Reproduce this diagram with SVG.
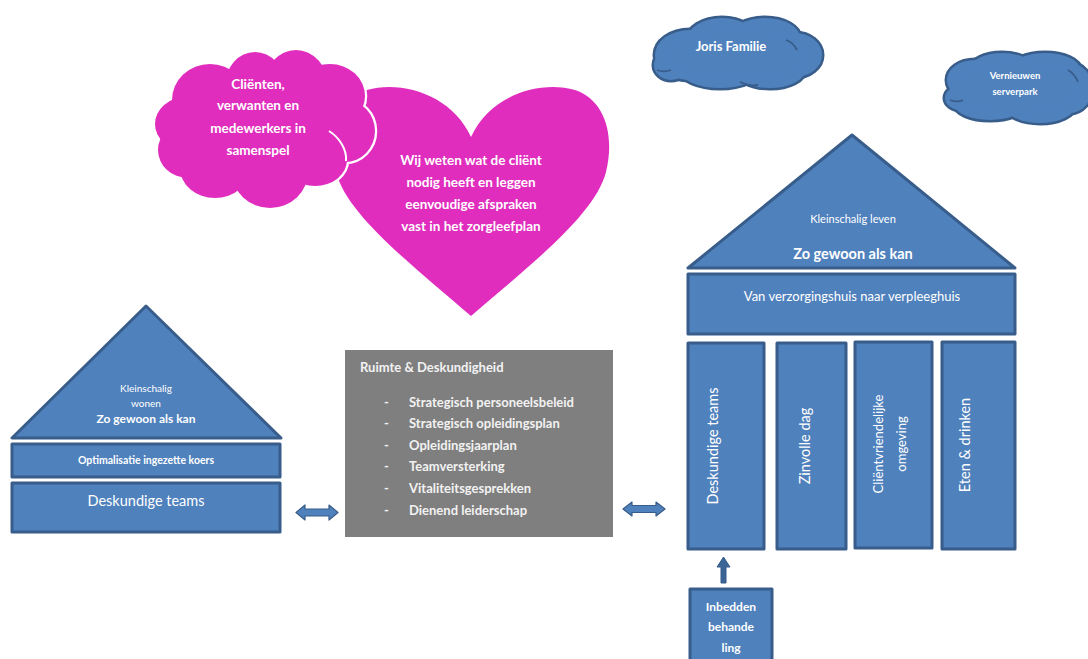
<svg xmlns="http://www.w3.org/2000/svg" xmlns:xlink="http://www.w3.org/1999/xlink" width="1088" height="659" viewBox="0 0 1088 659">
  <style>
    .blue { fill: #4F81BD; stroke: #385D8A; stroke-width: 3; stroke-linejoin: round; }
    .t { font-family: Lato, "Liberation Sans", sans-serif; fill: #FFFFFF; text-anchor: middle; }
    .b { font-weight: bold; }
    .gt { font-family: Lato, "Liberation Sans", sans-serif; fill: #F2F2F2; font-size: 13px; font-weight: bold; }
    .arrow { fill: #4F81BD; stroke: #385D8A; stroke-width: 1.2; stroke-linejoin: round; }
  </style>
  <defs>
    <!-- cloud outlines: union of ellipses, drawn once stroked and once filled -->
    <g id="cloudPink">
      <ellipse cx="210" cy="100" rx="38" ry="36"/>
      <ellipse cx="255" cy="86" rx="30" ry="34"/>
      <ellipse cx="296" cy="86" rx="32" ry="36"/>
      <ellipse cx="330" cy="96" rx="35" ry="32"/>
      <ellipse cx="345" cy="131" rx="30" ry="31"/>
      <ellipse cx="315" cy="160" rx="32" ry="26"/>
      <ellipse cx="270" cy="172" rx="38" ry="36"/>
      <ellipse cx="215" cy="168" rx="35" ry="30"/>
      <ellipse cx="188" cy="150" rx="30" ry="28"/>
      <ellipse cx="186" cy="124" rx="31" ry="27"/>
      <ellipse cx="265" cy="130" rx="80" ry="55"/>
    </g>
    <g id="cloudJoris">
      <ellipse cx="690" cy="55" rx="35" ry="25"/>
      <ellipse cx="722" cy="40" rx="35" ry="22"/>
      <ellipse cx="765" cy="38" rx="35" ry="20"/>
      <ellipse cx="795" cy="55" rx="27" ry="22"/>
      <ellipse cx="770" cy="70" rx="35" ry="18"/>
      <ellipse cx="720" cy="70" rx="40" ry="18"/>
      <ellipse cx="671" cy="65" rx="17" ry="15"/>
      <ellipse cx="737" cy="55" rx="70" ry="25"/>
    </g>
    <g id="cloudServer">
      <ellipse cx="975" cy="80" rx="28" ry="20"/>
      <ellipse cx="1002" cy="69" rx="32" ry="16"/>
      <ellipse cx="1045" cy="69" rx="35" ry="16"/>
      <ellipse cx="1070" cy="88" rx="22" ry="25"/>
      <ellipse cx="1040" cy="106" rx="35" ry="17"/>
      <ellipse cx="990" cy="105" rx="35" ry="15"/>
      <ellipse cx="961" cy="98" rx="16" ry="12"/>
      <ellipse cx="1015" cy="88" rx="65" ry="25"/>
    </g>
  </defs>

  <!-- heart with care plan statement -->
  <g id="heart">
    <path d="M471,137 C490,95 540,80 575,90 C605,100 615,135 606,172 C595,215 530,265 471,316 C412,265 347,215 336,172 C327,135 337,100 367,90 C402,80 452,95 471,137 Z" fill="#E02DBE"/>
    <text class="t b" font-size="13.5" x="471" y="165">Wij weten wat de cliënt</text>
    <text class="t b" font-size="13.5" x="471" y="187">nodig heeft en leggen</text>
    <text class="t b" font-size="13.5" x="471" y="209">eenvoudige afspraken</text>
    <text class="t b" font-size="13.5" x="471" y="231">vast in het zorgleefplan</text>
  </g>

  <!-- pink cloud -->
  <g id="cloud-samenspel">
    <use xlink:href="#cloudPink" fill="none" stroke="#FFFFFF" stroke-width="4.5"/>
    <use xlink:href="#cloudPink" fill="#E02DBE" stroke="none"/>
    <path d="M329,131 C340,138 347,150 346,161" fill="none" stroke="#FFFFFF" stroke-width="2"/>
    <text class="t b" font-size="13.5" x="258" y="89">Cliënten,</text>
    <text class="t b" font-size="13.5" x="258" y="110">verwanten en</text>
    <text class="t b" font-size="13.5" x="258" y="133">medewerkers in</text>
    <text class="t b" font-size="13.5" x="258" y="155">samenspel</text>
  </g>

  <!-- blue clouds -->
  <g id="cloud-joris">
    <use xlink:href="#cloudJoris" fill="none" stroke="#385D8A" stroke-width="5"/>
    <use xlink:href="#cloudJoris" fill="#4F81BD" stroke="none"/>
    <path d="M657,70 C662,72 666,72 671,70" fill="none" stroke="#385D8A" stroke-width="1.8"/>
    <path d="M786,40 C792,42 795,46 797,50" fill="none" stroke="#385D8A" stroke-width="1.8"/>
    <path d="M740,82 C746,85 752,86 758,85" fill="none" stroke="#385D8A" stroke-width="1.8"/>
    <text class="t b" font-size="13" x="731" y="51">Joris Familie</text>
  </g>
  <g id="cloud-server">
    <use xlink:href="#cloudServer" fill="none" stroke="#385D8A" stroke-width="5"/>
    <use xlink:href="#cloudServer" fill="#4F81BD" stroke="none"/>
    <path d="M950,100 C955,102 959,102 963,100" fill="none" stroke="#385D8A" stroke-width="1.8"/>
    <path d="M1068,70 C1073,73 1076,77 1078,82" fill="none" stroke="#385D8A" stroke-width="1.8"/>
    <text class="t b" font-size="9.5" x="1015" y="79">Vernieuwen</text>
    <text class="t b" font-size="9.5" x="1015" y="95">serverpark</text>
  </g>

  <!-- left house -->
  <g id="house-left">
    <polygon class="blue" points="146,306 12,438 281,438"/>
    <text class="t" font-size="10" x="146" y="392">Kleinschalig</text>
    <text class="t" font-size="10" x="146" y="407">wonen</text>
    <text class="t b" font-size="12" x="146" y="423">Zo gewoon als kan</text>
  </g>
  <g id="koers">
    <rect class="blue" x="12" y="444" width="268" height="33"/>
    <text class="t b" font-size="10.5" x="146" y="464">Optimalisatie ingezette koers</text>
  </g>
  <g id="teams-left">
    <rect class="blue" x="12" y="483" width="268" height="49"/>
    <text class="t" font-size="14.5" x="146" y="506">Deskundige teams</text>
  </g>

  <!-- central grey box -->
  <g id="ruimte">
    <rect x="345" y="350" width="268" height="187" fill="#7F7F7F"/>
    <text class="gt" x="360" y="372">Ruimte &amp; Deskundigheid</text>
    <g class="gt">
      <text x="384" y="407">-</text><text x="409" y="407">Strategisch personeelsbeleid</text>
      <text x="384" y="428">-</text><text x="409" y="428">Strategisch opleidingsplan</text>
      <text x="384" y="450">-</text><text x="409" y="450">Opleidingsjaarplan</text>
      <text x="384" y="471">-</text><text x="409" y="471">Teamversterking</text>
      <text x="384" y="493">-</text><text x="409" y="493">Vitaliteitsgesprekken</text>
      <text x="384" y="515">-</text><text x="409" y="515">Dienend leiderschap</text>
    </g>
  </g>

  <!-- right house -->
  <g id="house-right">
    <polygon class="blue" points="852,135 688,268 1015,268"/>
    <text class="t" font-size="11" x="853" y="223">Kleinschalig leven</text>
    <text class="t b" font-size="14.5" x="853" y="259">Zo gewoon als kan</text>
  </g>
  <g id="verpleeghuis">
    <rect class="blue" x="688" y="274" width="327" height="60"/>
    <text class="t" font-size="13" x="852" y="301">Van verzorgingshuis naar verpleeghuis</text>
  </g>
  <g id="col-teams">
    <rect class="blue" x="688" y="343" width="76" height="206"/>
    <text class="t" font-size="14.5" transform="translate(718,446) rotate(-90)">Deskundige teams</text>
  </g>
  <g id="col-dag">
    <rect class="blue" x="777" y="343" width="69" height="206"/>
    <text class="t" font-size="14.5" transform="translate(810,446) rotate(-90)">Zinvolle dag</text>
  </g>
  <g id="col-omgeving">
    <rect class="blue" x="855" y="342" width="77" height="206"/>
    <text class="t" font-size="13" transform="translate(883,444) rotate(-90)">Cliëntvriendelijke</text>
    <text class="t" font-size="13" transform="translate(906,444) rotate(-90)">omgeving</text>
  </g>
  <g id="col-eten">
    <rect class="blue" x="942" y="342" width="73" height="207"/>
    <text class="t" font-size="14.5" transform="translate(970,445) rotate(-90)">Eten &amp; drinken</text>
  </g>
  <g id="inbedden">
    <rect class="blue" x="690" y="589" width="82" height="80"/>
    <text class="t b" font-size="12" x="731" y="611">Inbedden</text>
    <text class="t b" font-size="12" x="731" y="631">behande</text>
    <text class="t b" font-size="12" x="731" y="652">ling</text>
  </g>

  <!-- connectors -->
  <g id="connectors">
    <path class="arrow" d="M296,512.5 L305,505 L305,509 L329,509 L329,505 L338,512.5 L329,520 L329,516 L305,516 L305,520 Z"/>
    <path class="arrow" d="M623,509 L632,502 L632,505.5 L656,505.5 L656,502 L665,509 L656,516 L656,512.5 L632,512.5 L632,516 Z"/>
    <path d="M723.5,557 L730,567 L726,567 L726,583 L721,583 L721,567 L717,567 Z" fill="#3B6496" stroke="#385D8A" stroke-width="1"/>
  </g>
</svg>
